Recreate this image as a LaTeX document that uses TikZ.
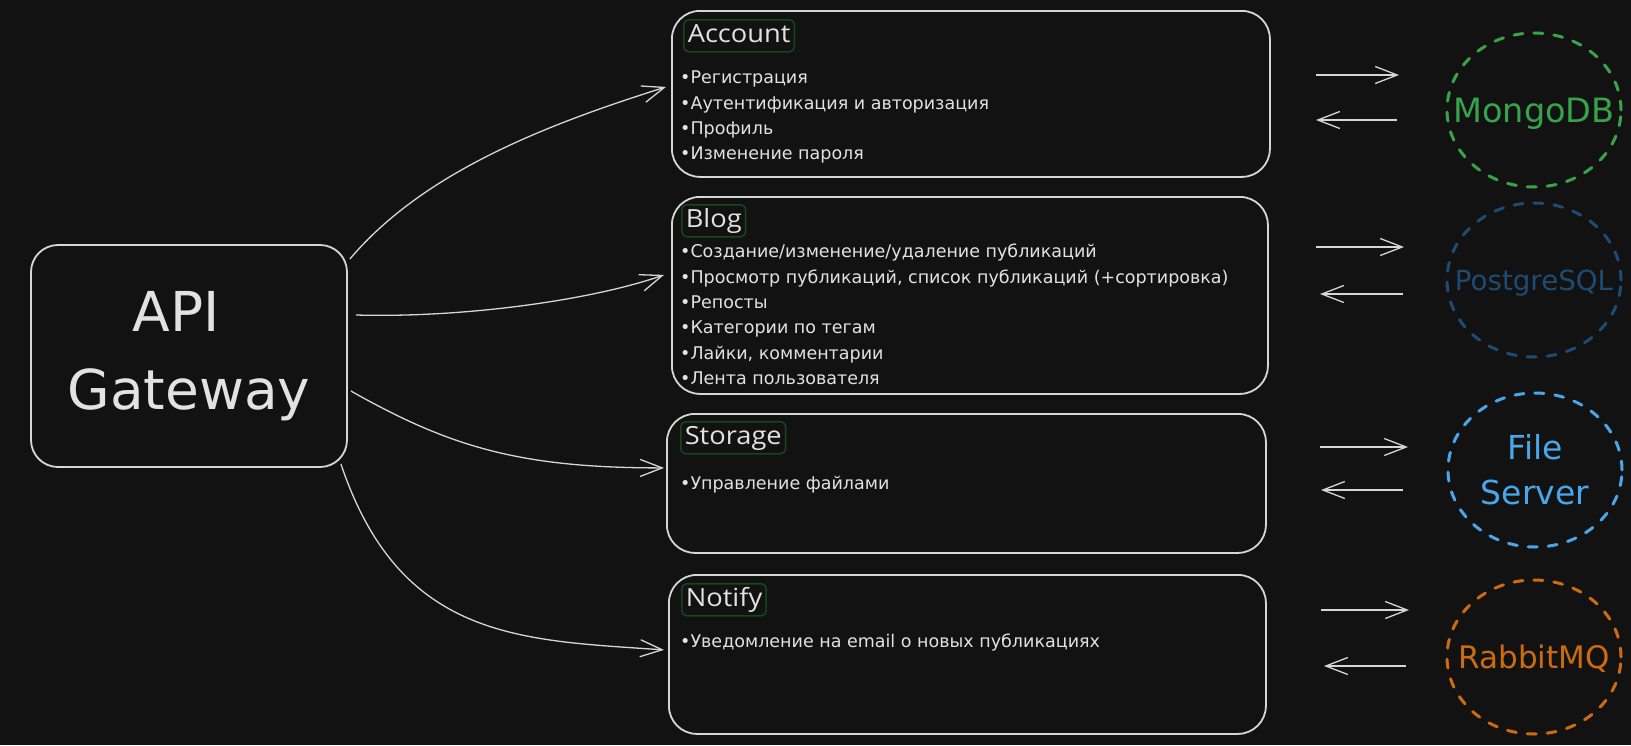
\documentclass[tikz,border=0pt]{standalone}
\usepackage{fontspec}
\setmainfont{DejaVu Sans}
\newfontfamily\titlefont[FakeStretch=1.09]{Open Sans}
\usetikzlibrary{arrows.meta,shapes.geometric}
\definecolor{bg}{HTML}{121212}
\definecolor{stroke}{HTML}{D6D6D6}
\definecolor{txt}{HTML}{E2E2E2}
\definecolor{ttlgreen}{HTML}{15461C}
\definecolor{mongo}{HTML}{37A34A}
\definecolor{pg}{HTML}{1D4B73}
\definecolor{filec}{HTML}{4AA6EA}
\definecolor{rabbit}{HTML}{CC6C0E}
\tikzset{
  gwbox/.style={draw=stroke, line width=1.8pt, rounded corners=27pt, minimum width=316pt, minimum height=222pt,
    align=center, text=txt, inner sep=0pt, font=\fontsize{55}{78}\selectfont},
  svc/.style={draw=stroke, line width=1.8pt, rounded corners=28pt, anchor=north west, inner sep=0pt},
  ttl/.style={draw=ttlgreen, line width=1.5pt, rounded corners=5pt, anchor=north west, inner xsep=4pt, inner ysep=0pt,
    minimum height=32pt, text height=18pt, text depth=5pt, text=txt, font=\titlefont\fontsize{25}{30}\selectfont},
  bul/.style={anchor=north west, align=left, inner sep=0pt, text=txt, font=\fontsize{17.5}{25.3}\selectfont},
  db/.style={ellipse, draw, dash pattern=on 9pt off 11pt, line cap=round, line width=3pt, minimum width=174pt, minimum height=154pt, inner sep=0pt},
  arr/.style={draw=stroke, line width=1.3pt, -{Straight Barb[length=22pt,width=17pt]}},
}
\begin{document}
\begin{tikzpicture}[x=1pt,y=-1pt]
\fill[bg] (0,0) rectangle (1631,745);
\useasboundingbox (0,0) rectangle (1631,745);

% API Gateway
\node[gwbox] (gw) at (189,356) {API\hspace*{26pt}\\Gateway};

% service boxes
\node[svc, minimum width=598pt, minimum height=166pt] (acc) at (671,10) {};
\node[svc, minimum width=596pt, minimum height=197pt] (blog) at (671,196) {};
\node[svc, minimum width=599pt, minimum height=139pt] (sto) at (666,413) {};
\node[svc, minimum width=597pt, minimum height=159pt] (ntf) at (668,574) {};

% titles
\node[ttl] (acct) at (683,19) {Account};
\node[ttl] (blogt) at (681,204) {Blog};
\node[ttl] (stot) at (680,421) {Storage};
\node[ttl] (ntft) at (681,583) {Notify};

% bullet lists
\node[bul] (accl) at (680,71) {•Регистрация\\•Аутентификация и авторизация\\•Профиль\\•Изменение пароля};
\node[bul] (blogl) at (680,244) {•Создание/изменение/удаление публикаций\\•Просмотр публикаций, список публикаций (+сортировка)\\•Репосты\\•Категории по тегам\\•Лайки, комментарии\\•Лента пользователя};
\node[bul] (stol) at (680,476) {•Управление файлами};
\node[bul] (ntfl) at (680,634) {•Уведомление на email о новых публикациях};

% data stores
\node[db, draw=mongo, text=mongo, text depth=0pt, font=\fontsize{33.5}{40}\selectfont] (mongo) at (1534,110) {\makebox[0pt]{MongoDB}};
\node[db, draw=pg, text=pg, text depth=0pt, font=\fontsize{27.7}{34}\selectfont] (pgs) at (1534,280) {\makebox[0pt]{PostgreSQL}};
\node[db, draw=filec, text=filec, align=center, font=\fontsize{33}{45}\selectfont] (fs) at (1535,470) {\makebox[0pt]{File}\\\makebox[0pt]{Server}};
\node[db, draw=rabbit, text=rabbit, text depth=0pt, font=\fontsize{31}{38}\selectfont] (rmq) at (1534,657) {\makebox[0pt]{RabbitMQ}};

% gateway connectors
\draw[arr] ([shift={(2,-97)}]gw.east) .. controls (425,170) and (552,123) .. ([shift={(-5,-7)}]acc.west);
\draw[arr] ([shift={(8,-41)}]gw.east) .. controls (460,318) and (589,301) .. ([shift={(-7,-20.5)}]blog.west);
\draw[arr] ([shift={(3,35)}]gw.east) .. controls (450,447) and (520,468) .. ([shift={(-2,-15.5)}]sto.west);
\draw[arr] ([shift={(-7,-4)}]gw.south east) .. controls (400,640) and (520,640) .. ([shift={(-4,-4.5)}]ntf.west);

% store connectors
\coordinate (m1a) at (1316,75);  \coordinate (m1b) at (1399,75);
\coordinate (m2a) at (1397,120); \coordinate (m2b) at (1316,120);
\coordinate (p1a) at (1316,247); \coordinate (p1b) at (1404,247);
\coordinate (p2a) at (1403,294); \coordinate (p2b) at (1320,294);
\coordinate (f1a) at (1320,447); \coordinate (f1b) at (1408,447);
\coordinate (f2a) at (1403,490); \coordinate (f2b) at (1321,490);
\coordinate (r1a) at (1321,610); \coordinate (r1b) at (1409,610);
\coordinate (r2a) at (1406,666); \coordinate (r2b) at (1324,666);
\foreach \a/\b in {m1a/m1b,m2a/m2b,p1a/p1b,p2a/p2b,f1a/f1b,f2a/f2b,r1a/r1b,r2a/r2b}
  \draw[arr] (\a) -- (\b);
\end{tikzpicture}
\end{document}
